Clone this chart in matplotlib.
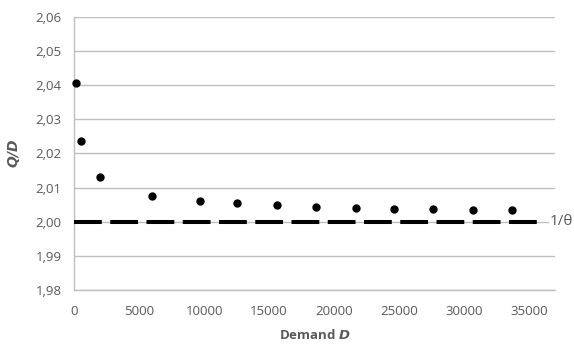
import matplotlib
matplotlib.use("Agg")
import matplotlib.pyplot as plt
from matplotlib.ticker import FuncFormatter

# Data
demand = [150, 500, 2000, 6000, 9700, 12500, 15600, 18600, 21700, 24600, 27600, 30700, 33700]
q_over_d = [2.0405, 2.0237, 2.0130, 2.0076, 2.0061, 2.0054, 2.0048, 2.0044, 2.0041, 2.0038, 2.0038, 2.0035, 2.0035]
theta_x = [0, 35700]
theta_y = [2.0, 2.0]
x_ticks = [0, 5000, 10000, 15000, 20000, 25000, 30000, 35000]
y_ticks = [1.98, 1.99, 2.00, 2.01, 2.02, 2.03, 2.04, 2.05, 2.06]

plt.rcParams['font.family'] = ['Open Sans', 'DejaVu Sans']
txt = '#595959'
grid = '#BFBFBF'

fig = plt.figure(figsize=(5.74, 3.44), dpi=100)
ax = fig.add_axes([0.129, 0.157, 0.838, 0.794])

ax.set_xlim(0, 37000)
ax.set_ylim(1.98, 2.06)
ax.set_xticks(x_ticks)
ax.set_yticks(y_ticks)
ax.yaxis.set_major_formatter(FuncFormatter(lambda v, p: f"{v:.2f}".replace('.', ',')))
ax.xaxis.set_major_formatter(FuncFormatter(lambda v, p: f"{int(v)}"))

ax.grid(axis='y', color=grid, linewidth=1.0, zorder=0)
ax.set_axisbelow(True)
for s in ['top', 'right']:
    ax.spines[s].set_visible(False)
for s in ['left', 'bottom']:
    ax.spines[s].set_color(grid)
    ax.spines[s].set_linewidth(1.0)
ax.tick_params(axis='both', length=0, colors=txt, labelsize=9.5)
ax.tick_params(axis='y', pad=9)
ax.tick_params(axis='x', pad=11)

ax.plot(theta_x, theta_y, color='black', linewidth=2.9, dashes=(6.9, 2.1), zorder=3,
        dash_capstyle='butt', solid_capstyle='butt')
ax.plot(demand, q_over_d, linestyle='none', marker='o', markersize=5, color='black', zorder=4, clip_on=False)

ax.text(0.988, 2.0, '1/θ', transform=ax.get_yaxis_transform(), ha='left', va='center',
        fontsize=11, color=txt, clip_on=False, zorder=5,
        bbox=dict(facecolor='white', edgecolor='none', pad=0.5))

ax.set_xlabel(r'Demand $\mathbfit{D}$', fontsize=9.5, fontweight='bold', color=txt, labelpad=7)
ax.set_ylabel(r'$\mathbfit{Q/D}$', fontsize=10, color=txt, labelpad=10)

fig.savefig('out.png', dpi=100)
